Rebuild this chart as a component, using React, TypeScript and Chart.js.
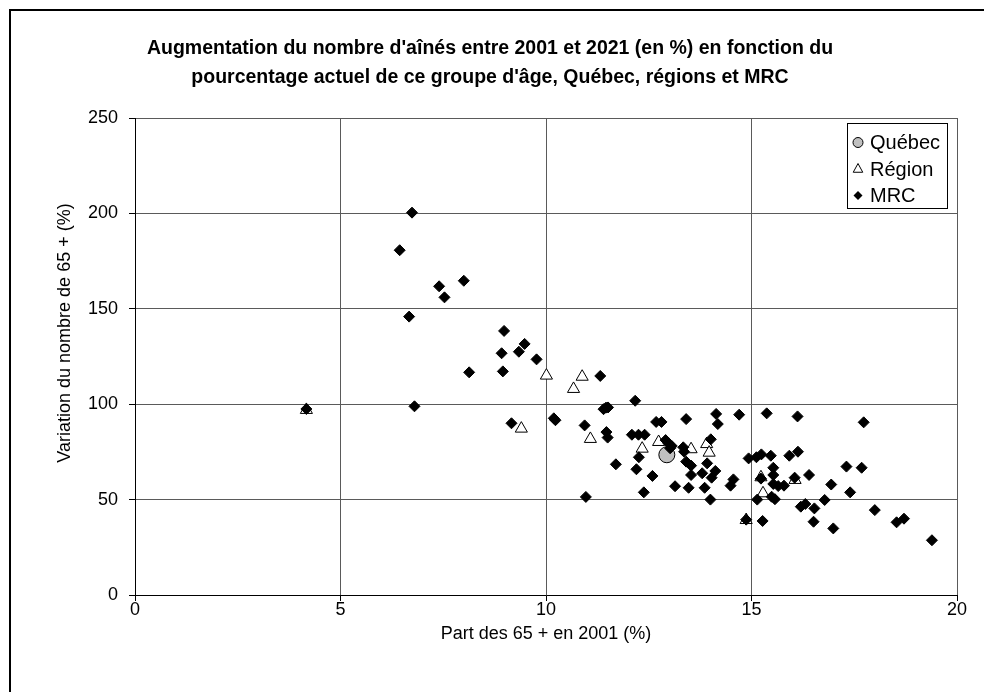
import React, { useEffect, useRef } from 'react';
import { Chart, registerables } from 'chart.js';

Chart.register(...registerables);

const titleLines = [
  "Augmentation du nombre d'aînés entre 2001 et 2021 (en %) en fonction du",
  "pourcentage actuel de ce groupe d'âge, Québec, régions et MRC",
];
const xAxisTitle = 'Part des 65 + en 2001 (%)';
const yAxisTitle = 'Variation du nombre de 65 + (%)';
const seriesLabels = ['Québec', 'Région', 'MRC'];

const quebecX = [12.94];
const quebecY = [73.5];

const regionX = [4.17, 9.4, 10.01, 10.67, 10.88, 11.08, 12.34, 12.74, 13.53, 13.91, 13.97, 14.87, 15.23, 15.28, 16.06];
const regionY = [97, 87.2, 115, 108, 114.4, 81.8, 76.7, 80.2, 76.4, 79.1, 74.6, 39.3, 61.7, 53.3, 60.3];

const mrcX = [
  4.17, 6.74, 6.44, 8.0, 7.4, 7.53, 6.67, 8.13, 6.8, 8.98,
  8.92, 9.48, 9.34, 9.77, 8.95, 11.32, 12.17, 11.4, 11.46, 11.51,
  9.16, 10.19, 10.23, 10.94, 11.47, 11.5, 12.09, 12.25, 12.4, 12.68,
  12.81, 12.26, 11.7, 12.2, 12.59, 12.38, 13.14, 10.97, 12.91, 12.98,
  13.02, 13.06, 13.41, 14.14, 14.18, 14.7, 15.37, 16.12, 17.73, 13.34,
  13.36, 14.01, 13.41, 13.53, 13.92, 14.12, 14.03, 13.53, 13.8, 13.47,
  13.86, 14.0, 14.56, 14.49, 14.93, 15.12, 15.24, 15.47, 15.53, 15.53,
  15.53, 15.65, 15.79, 15.92, 16.13, 16.4, 16.94, 17.31, 17.68, 17.4,
  15.14, 15.49, 15.57, 16.78, 16.2, 16.31, 16.53, 16.51, 16.99, 18.0,
  18.53, 18.71, 19.39, 14.87, 15.27, 15.23, 16.05,
];
const mrcY = [
  97.5, 200.4, 180.7, 164.7, 161.8, 156.0, 145.9, 116.7, 98.9, 138.4,
  126.7, 131.6, 127.5, 123.5, 117.2, 114.8, 101.8, 97.4, 98.2, 98.3,
  90, 92.6, 91.6, 88.9, 85.4, 82.5, 84, 84, 84, 90.7,
  90.7, 72.2, 68.5, 65.9, 62.4, 53.8, 57, 51.4, 81.2, 79.5,
  76.9, 78.1, 92.2, 94.9, 89.6, 94.5, 95.2, 93.6, 90.5, 77.4,
  75.1, 81.6, 69.9, 67.8, 69.0, 65.0, 61.5, 62.9, 63.8, 56.2,
  56.2, 50, 60.6, 57.3, 71.6, 72.2, 73.7, 73.0, 66.7, 62.9,
  58.2, 57.1, 57.3, 73, 75.1, 62.9, 57.9, 67.3, 66.7, 53.8,
  50, 51.5, 50.2, 49.8, 46.3, 47.7, 45.4, 38.4, 34.9, 44.5,
  38.1, 40, 28.7, 39.5, 38.8, 61, 61.5,
];

const FONT = 'Arial, "Liberation Sans", sans-serif';

const toPoints = (xs: number[], ys: number[]) => xs.map((x, i) => ({ x, y: ys[i] }));

const overlayPlugin = {
  id: 'overlay',
  afterDraw(chart: any) {
    const ctx = chart.ctx as CanvasRenderingContext2D;
    const area = chart.chartArea;
    ctx.save();
    // Y axis title
    ctx.translate(65, 333);
    ctx.rotate(-Math.PI / 2);
    ctx.font = `18px ${FONT}`;
    ctx.fillStyle = '#000';
    ctx.textAlign = 'center';
    ctx.textBaseline = 'middle';
    ctx.fillText(yAxisTitle, 0, 0);
    ctx.restore();

    // Legend box
    const right = area.right - 9;
    const left = right - 101;
    const top = area.top + 5;
    const h = 86;
    ctx.save();
    ctx.fillStyle = '#fff';
    ctx.fillRect(left, top, right - left, h);
    ctx.strokeStyle = '#000';
    ctx.lineWidth = 1;
    ctx.strokeRect(left + 0.5, top + 0.5, right - left - 1, h - 1);
    const rows = [top + 19.5, top + 46, top + 72.5];
    const mx = left + 11;
    ctx.lineWidth = 1;
    // Québec circle
    ctx.beginPath();
    ctx.arc(mx, rows[0], 5, 0, Math.PI * 2);
    ctx.fillStyle = '#c0c0c0';
    ctx.fill();
    ctx.strokeStyle = '#000';
    ctx.stroke();
    // Région triangle
    ctx.beginPath();
    const r = 5.5;
    ctx.moveTo(mx, rows[1] - r);
    ctx.lineTo(mx + r * 0.866, rows[1] + r * 0.5 + 0.5);
    ctx.lineTo(mx - r * 0.866, rows[1] + r * 0.5 + 0.5);
    ctx.closePath();
    ctx.fillStyle = '#fff';
    ctx.fill();
    ctx.stroke();
    // MRC diamond
    ctx.beginPath();
    const d = 4.5;
    ctx.moveTo(mx, rows[2] - d);
    ctx.lineTo(mx + d, rows[2]);
    ctx.lineTo(mx, rows[2] + d);
    ctx.lineTo(mx - d, rows[2]);
    ctx.closePath();
    ctx.fillStyle = '#000';
    ctx.fill();
    // labels
    ctx.font = `20px ${FONT}`;
    ctx.fillStyle = '#000';
    ctx.textAlign = 'left';
    ctx.textBaseline = 'middle';
    seriesLabels.forEach((lab, i) => ctx.fillText(lab, left + 23, rows[i] + 1));
    ctx.restore();
  },
};

export default function App() {
  const ref = useRef<HTMLCanvasElement | null>(null);

  useEffect(() => {
    if (!ref.current) return;
    const chart = new Chart(ref.current, {
      type: 'scatter',
      data: {
        datasets: [
          {
            label: seriesLabels[0],
            data: toPoints(quebecX, quebecY),
            pointStyle: 'circle',
            pointRadius: 8,
            backgroundColor: '#c0c0c0',
            borderColor: '#000',
            borderWidth: 1,
            order: 2,
          },
          {
            label: seriesLabels[1],
            data: toPoints(regionX, regionY),
            pointStyle: 'triangle',
            pointRadius: 7,
            backgroundColor: '#fff',
            borderColor: '#000',
            borderWidth: 1,
            order: 1,
          },
          {
            label: seriesLabels[2],
            data: toPoints(mrcX, mrcY),
            pointStyle: 'rectRot',
            pointRadius: 5.5,
            backgroundColor: '#000',
            borderColor: '#000',
            borderWidth: 1,
            order: 0,
          },
        ],
      },
      options: {
        animation: false,
        responsive: false,
        devicePixelRatio: 1,
        layout: { padding: { left: 23, right: 27, top: 0, bottom: 0 } },
        plugins: {
          legend: { display: false },
          tooltip: { enabled: false },
          title: {
            display: true,
            text: titleLines,
            color: '#000',
            font: { family: FONT, size: 19.5, weight: 'bold', lineHeight: 29 / 19.5 },
            padding: { top: 34, bottom: 26 },
          },
        },
        scales: {
          x: {
            type: 'linear',
            min: 0,
            max: 20,
            ticks: { stepSize: 5, color: '#000', font: { family: FONT, size: 18 }, padding: -2 },
            grid: { color: '#5a5a5a', tickColor: '#000', tickLength: 6, lineWidth: 1 },
            border: { color: '#000', width: 1 },
            title: {
              display: true,
              text: xAxisTitle,
              color: '#000',
              font: { family: FONT, size: 18 },
              padding: { top: 0, bottom: 47 },
            },
            afterFit: (scale: any) => {
              scale.height = 97;
            },
          },
          y: {
            type: 'linear',
            min: 0,
            max: 250,
            ticks: { stepSize: 50, color: '#000', font: { family: FONT, size: 18 }, padding: 11 },
            grid: { color: '#5a5a5a', tickColor: '#000', tickLength: 6, lineWidth: 1 },
            border: { color: '#000', width: 1 },
            afterFit: (scale: any) => {
              scale.width = 112;
            },
          },
        },
      },
      plugins: [overlayPlugin],
    });
    return () => chart.destroy();
  }, []);

  return (
    <>
      <div
        style={{
          position: 'fixed',
          left: 9,
          top: 9,
          width: 990,
          height: 700,
          borderLeft: '2px solid #000',
          borderTop: '2px solid #000',
        }}
      />
      <canvas
        ref={ref}
        width={984}
        height={692}
        style={{ position: 'fixed', left: 0, top: 0, width: 984, height: 692 }}
      />
    </>
  );
}
